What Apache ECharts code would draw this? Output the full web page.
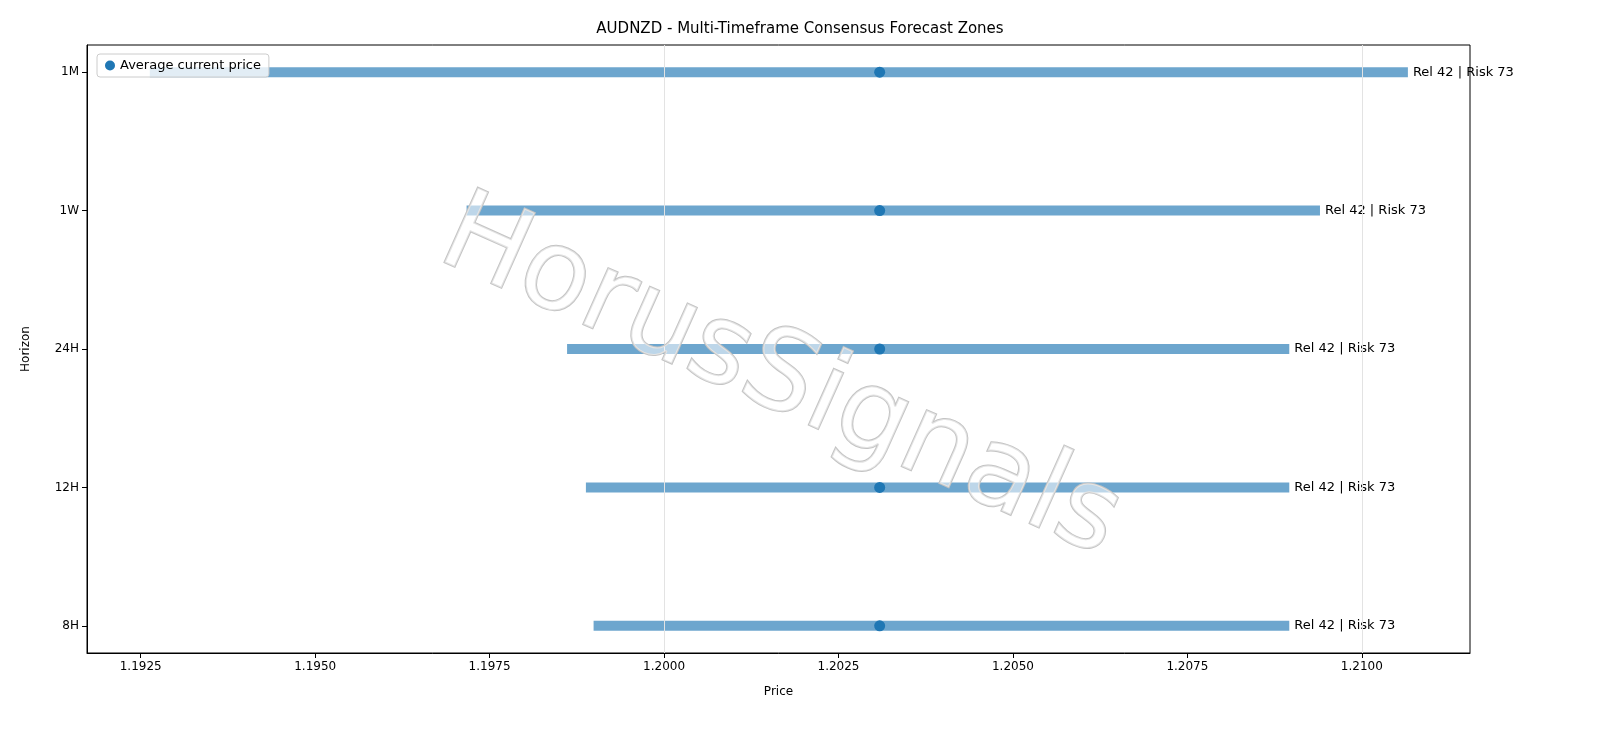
<!DOCTYPE html><html><head><meta charset="utf-8">
<script src="https://cdn.jsdelivr.net/npm/echarts@6/dist/echarts.min.js"></script>
<style>html,body{margin:0;background:#fff}#c{width:1600px;height:738px}</style></head><body><div id="c"></div>
<script>
const horizons = ['8H','12H','24H','1W','1M'];
const lows = [1.19899, 1.19888, 1.19861, 1.19717, 1.19263];
const highs = [1.20896, 1.20896, 1.20896, 1.20940, 1.21066];
const currentPrice = [1.20309, 1.20309, 1.20309, 1.20309, 1.20309];
const labels = ['Rel 42 | Risk 73','Rel 42 | Risk 73','Rel 42 | Risk 73','Rel 42 | Risk 73','Rel 42 | Risk 73'];
const xTicks = [1.1925, 1.1950, 1.1975, 1.2000, 1.2025, 1.2050, 1.2075, 1.2100];
const yTicks = [0, 1, 2, 3, 4];
const ff = 'DejaVu Sans';
const chart = echarts.init(document.getElementById('c'));
chart.setOption({
  animation:false,
  textStyle:{fontFamily:ff},
  title:{text:'AUDNZD - Multi-Timeframe Consensus Forecast Zones',left:'center',top:17,textStyle:{fontFamily:ff,fontSize:15,fontWeight:'normal',color:'#000'}},
  grid:{left:87,right:130,top:45,bottom:85,show:true,borderColor:'#000',borderWidth:1},
  xAxis:{type:'value',min:1.19173,max:1.21155,name:'Price',nameLocation:'middle',nameGap:33,nameTextStyle:{fontSize:12,color:'#000'},
    axisLine:{onZero:false,lineStyle:{color:'#000'}},axisTick:{show:true,customValues:xTicks,lineStyle:{color:'#000'}},
    axisLabel:{color:'#000',fontSize:12,customValues:xTicks,formatter:v=>v.toFixed(4)},
    splitLine:{show:false}},
  yAxis:{type:'value',min:-0.196,max:4.196,name:'Horizon',nameLocation:'middle',nameGap:55,nameTextStyle:{fontSize:12,color:'#000'},
    axisLine:{show:true,onZero:false,lineStyle:{color:'#000'}},axisTick:{show:true,customValues:yTicks,lineStyle:{color:'#000'}},splitLine:{show:false},
    axisLabel:{color:'#000',fontSize:12,customValues:yTicks,formatter:v=>horizons[Math.round(v)]||''}},
  legend:{left:97,top:54,data:['Average current price'],itemWidth:10,itemHeight:10,borderColor:'#ccc',borderWidth:1,borderRadius:3,padding:[5,8],backgroundColor:'rgba(255,255,255,0.8)',textStyle:{fontSize:13,color:'#000'}},
  graphic:[
    {type:'text',rotation:-0.42,originX:780,originY:380,z:100,
     style:{text:'HorusSignals',x:780,y:380,fontSize:112,fontFamily:ff,fill:'rgba(255,255,255,0.55)',stroke:'#c4c4c4',lineWidth:2,textAlign:'center',textVerticalAlign:'middle',shadowColor:'rgba(0,0,0,0.35)',shadowOffsetX:4,shadowOffsetY:4,shadowBlur:2}}
  ],
  series:[
    {type:'line',name:'grid',data:[],silent:true,
     markLine:{silent:true,symbol:'none',label:{show:false},lineStyle:{color:'#e3e3e3',type:'solid',width:1},data:xTicks.map(v=>({xAxis:v}))}},
    {type:'custom',name:'zones',data:horizons.map((h,i)=>[lows[i],highs[i],i]),
     renderItem:(p,api)=>{const a=api.coord([api.value(0),api.value(2)]),b=api.coord([api.value(1),api.value(2)]);
       return {type:'group',children:[
         {type:'rect',shape:{x:a[0],y:a[1]-5,width:b[0]-a[0],height:10},style:{fill:'#1f77b4',opacity:0.65}},
         {type:'text',style:{text:labels[p.dataIndex],x:b[0]+5,y:b[1],textVerticalAlign:'middle',fontSize:13,fontFamily:ff,fill:'#000'}}]};}},
    {type:'scatter',name:'Average current price',data:horizons.map((h,i)=>[currentPrice[i],i]),symbolSize:11,itemStyle:{color:'#1f77b4',opacity:1},z:5}
  ]
});
</script></body></html>
